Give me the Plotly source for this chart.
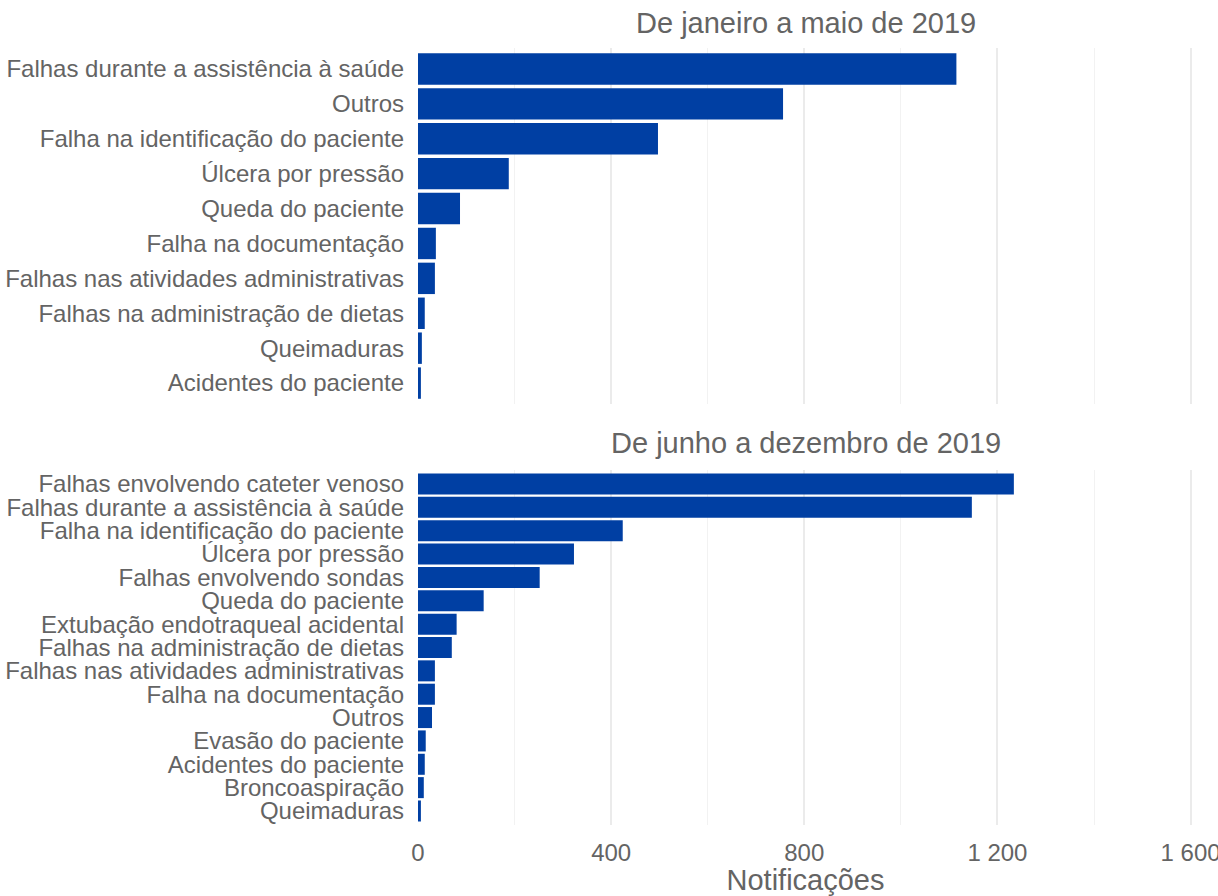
import plotly.graph_objects as go

# ---- data ----
cats_top = [
    "Falhas durante a assistência à saúde",
    "Outros",
    "Falha na identificação do paciente",
    "Úlcera por pressão",
    "Queda do paciente",
    "Falha na documentação",
    "Falhas nas atividades administrativas",
    "Falhas na administração de dietas",
    "Queimaduras",
    "Acidentes do paciente",
]
vals_top = [1115, 756, 497, 188, 87, 37, 35, 14, 8, 6]

cats_bot = [
    "Falhas envolvendo cateter venoso",
    "Falhas durante a assistência à saúde",
    "Falha na identificação do paciente",
    "Úlcera por pressão",
    "Falhas envolvendo sondas",
    "Queda do paciente",
    "Extubação endotraqueal acidental",
    "Falhas na administração de dietas",
    "Falhas nas atividades administrativas",
    "Falha na documentação",
    "Outros",
    "Evasão do paciente",
    "Acidentes do paciente",
    "Broncoaspiração",
    "Queimaduras",
]
vals_bot = [1234, 1147, 424, 323, 252, 136, 80, 70, 35, 35, 29, 16, 14, 12, 6]

title_top = "De janeiro a maio de 2019"
title_bot = "De junho a dezembro de 2019"
x_title = "Notificações"
x_ticks = [0, 400, 800, 1200, 1600]
x_tick_labels = ["0", "400", "800", "1 200", "1 600"]

# ---- style ----
BAR = "#003FA3"
TXT = "#646464"
FONT = "Liberation Sans, Arial, sans-serif"
XR = [0, 1605]

fig = go.Figure()
fig.add_trace(go.Bar(x=vals_top, y=cats_top, orientation="h", marker_color=BAR,
                     marker_line_width=0, xaxis="x", yaxis="y", showlegend=False))
fig.add_trace(go.Bar(x=vals_bot, y=cats_bot, orientation="h", marker_color=BAR,
                     marker_line_width=0, xaxis="x2", yaxis="y2", showlegend=False))

grid_major = dict(showgrid=True, gridcolor="#EBEBEB", gridwidth=1.5)
minor = dict(tick0=0, dtick=200, showgrid=True, gridcolor="#F2F2F2", gridwidth=1)
ycommon = dict(type="category", categoryorder="array", showgrid=False, zeroline=False,
               showline=False, ticks="", tickmode="linear", tick0=0, dtick=1,
               ticklabelstandoff=13, automargin=False,
               tickfont=dict(size=24, color=TXT))

fig.update_layout(
    width=1218, height=896,
    margin=dict(l=418, r=25, t=48, b=71),
    plot_bgcolor="white", paper_bgcolor="white",
    font=dict(family=FONT, color=TXT, size=24),
    bargap=0.1,
    xaxis=dict(domain=[0, 1], anchor="y", range=XR, tickmode="array", tickvals=x_ticks,
               ticktext=x_tick_labels, showticklabels=False, zeroline=False,
               showline=False, ticks="", minor=minor, automargin=False, **grid_major),
    yaxis=dict(domain=[0.5418, 1], anchor="x",
               categoryarray=list(reversed(cats_top)), range=[-0.6, len(cats_top) - 0.4],
               **ycommon),
    xaxis2=dict(domain=[0, 1], anchor="y2", range=XR, tickmode="array", tickvals=x_ticks,
                ticktext=x_tick_labels, zeroline=False, showline=False, ticks="",
                ticklabeloverflow="allow", ticklabelstandoff=11, automargin=False,
                tickfont=dict(size=24, color=TXT), minor=minor,
                title=dict(text=x_title, font=dict(size=29, color=TXT), standoff=6),
                **grid_major),
    yaxis2=dict(domain=[0, 0.4569], anchor="x2",
                categoryarray=list(reversed(cats_bot)), range=[-0.6, len(cats_bot) - 0.4],
                **ycommon),
    annotations=[
        dict(text=title_top, xref="x domain", yref="y domain", x=0.5, y=1,
             xanchor="center", yanchor="middle", yshift=25, showarrow=False,
             font=dict(size=29, color=TXT)),
        dict(text=title_bot, xref="x2 domain", yref="y2 domain", x=0.5, y=1,
             xanchor="center", yanchor="middle", yshift=27, showarrow=False,
             font=dict(size=29, color=TXT)),
    ],
)

fig.write_html(
    "out.html",
    config={"displayModeBar": False},
    post_script="document.body.style.margin='0';document.body.style.overflow='hidden';",
)
